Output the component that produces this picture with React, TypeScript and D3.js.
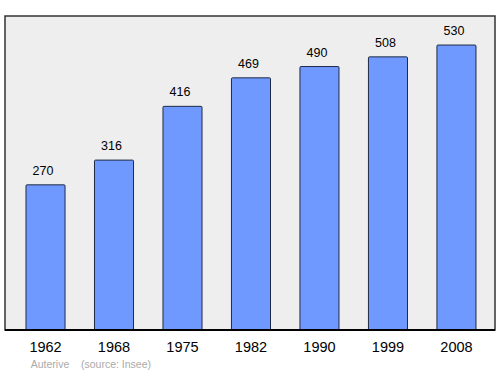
import React from "react";
import * as d3 from "d3";

const years = ["1962", "1968", "1975", "1982", "1990", "1999", "2008"];
const population = [270, 316, 416, 469, 490, 508, 530];
const townName = "Auterive";
const sourceText = "(source: Insee)";

export default function App() {
  const W = 500, H = 374;
  const frame = { x: 5, y: 16, w: 490, h: 314 };
  const baseY = frame.y + frame.h;
  const x = d3.scaleBand().domain(years).range([11.27, 490.7]).paddingInner(0.43).paddingOuter(0.215);
  const y = d3.scaleLinear().domain([0, 584]).range([baseY, frame.y]);
  const font = "'Liberation Sans', Arial, sans-serif";
  return (
    <svg width={W} height={H} style={{ position: "absolute", left: 0, top: 0 }}>
      <rect x={frame.x} y={frame.y} width={frame.w} height={frame.h} fill="#eeeeee" stroke="#333" strokeWidth={1.5} />
      {years.map((yr, i) => {
        const bx = x(yr) as number;
        const bw = x.bandwidth();
        const top = y(population[i]);
        return (
          <g key={yr}>
            <rect x={bx} y={top} width={bw} height={baseY - top} fill="#7099ff" stroke="#1f2a44" strokeWidth={1} rx={1} />
            <text x={bx + bw / 2 - 2.5} y={top - 10} textAnchor="middle" fontFamily={font} fontSize={12.5} fill="#000">{population[i]}</text>
            <text x={bx + bw / 2} y={351.5} textAnchor="middle" fontFamily={font} fontSize={14.5} fill="#000">{yr}</text>
          </g>
        );
      })}
      <line x1={frame.x} x2={frame.x + frame.w} y1={baseY} y2={baseY} stroke="#000" strokeWidth={2} />
      <text x={50} y={368} textAnchor="middle" fontFamily={font} fontSize={10.5} fill="#aaaaaa">{townName}</text>
      <text x={81} y={368} textAnchor="start" fontFamily={font} fontSize={10.5} fill="#aaaaaa">{sourceText}</text>
    </svg>
  );
}
